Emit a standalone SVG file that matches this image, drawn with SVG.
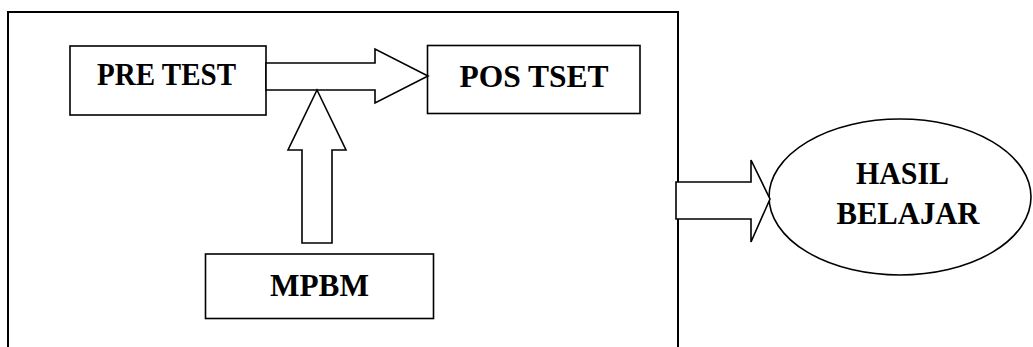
<svg xmlns="http://www.w3.org/2000/svg" width="1033" height="347" viewBox="0 0 1033 347">
<style>
.box{fill:#fff;stroke:#000;stroke-width:1.6}
.arrow{fill:#fff;stroke:#000;stroke-width:1.6;stroke-linejoin:miter}
.lbl{font-family:"Liberation Serif","Times New Roman",serif;font-weight:bold;font-size:31px;fill:#000;text-anchor:middle}
</style>
<rect width="1033" height="347" fill="#fff"/>
<g id="frame"><rect x="8" y="12" width="670" height="360" fill="none" stroke="#000" stroke-width="2"/></g>
<g id="pretest"><rect class="box" x="70" y="46" width="196" height="69"/><text class="lbl" x="166.5" y="84.5" textLength="139" lengthAdjust="spacingAndGlyphs">PRE TEST</text></g>
<g id="postest"><rect class="box" x="427.5" y="45.5" width="212.5" height="68"/><text class="lbl" x="534" y="86.5" textLength="149" lengthAdjust="spacingAndGlyphs">POS TSET</text></g>
<g id="mpbm"><rect class="box" x="205.5" y="254" width="228" height="64.5"/><text class="lbl" x="319.5" y="295.5" textLength="99" lengthAdjust="spacingAndGlyphs">MPBM</text></g>
<g id="hasil"><ellipse class="box" cx="900" cy="197" rx="131" ry="78"/><text class="lbl" x="902.5" y="183.5" textLength="93" lengthAdjust="spacingAndGlyphs">HASIL</text><text class="lbl" x="908" y="223.5" textLength="143" lengthAdjust="spacingAndGlyphs">BELAJAR</text></g>
<g id="connectors">
<polygon class="arrow" points="266,63 375,63 375,49 428,76 375,103 375,90 266,90"/>
<polygon class="arrow" points="317,90 346,150 332,150 332,243 302,243 302,150 288,150"/>
<polygon class="arrow" points="676,182 751,182 751,160 770,199 751,242 751,219 676,219"/>
</g>
</svg>
